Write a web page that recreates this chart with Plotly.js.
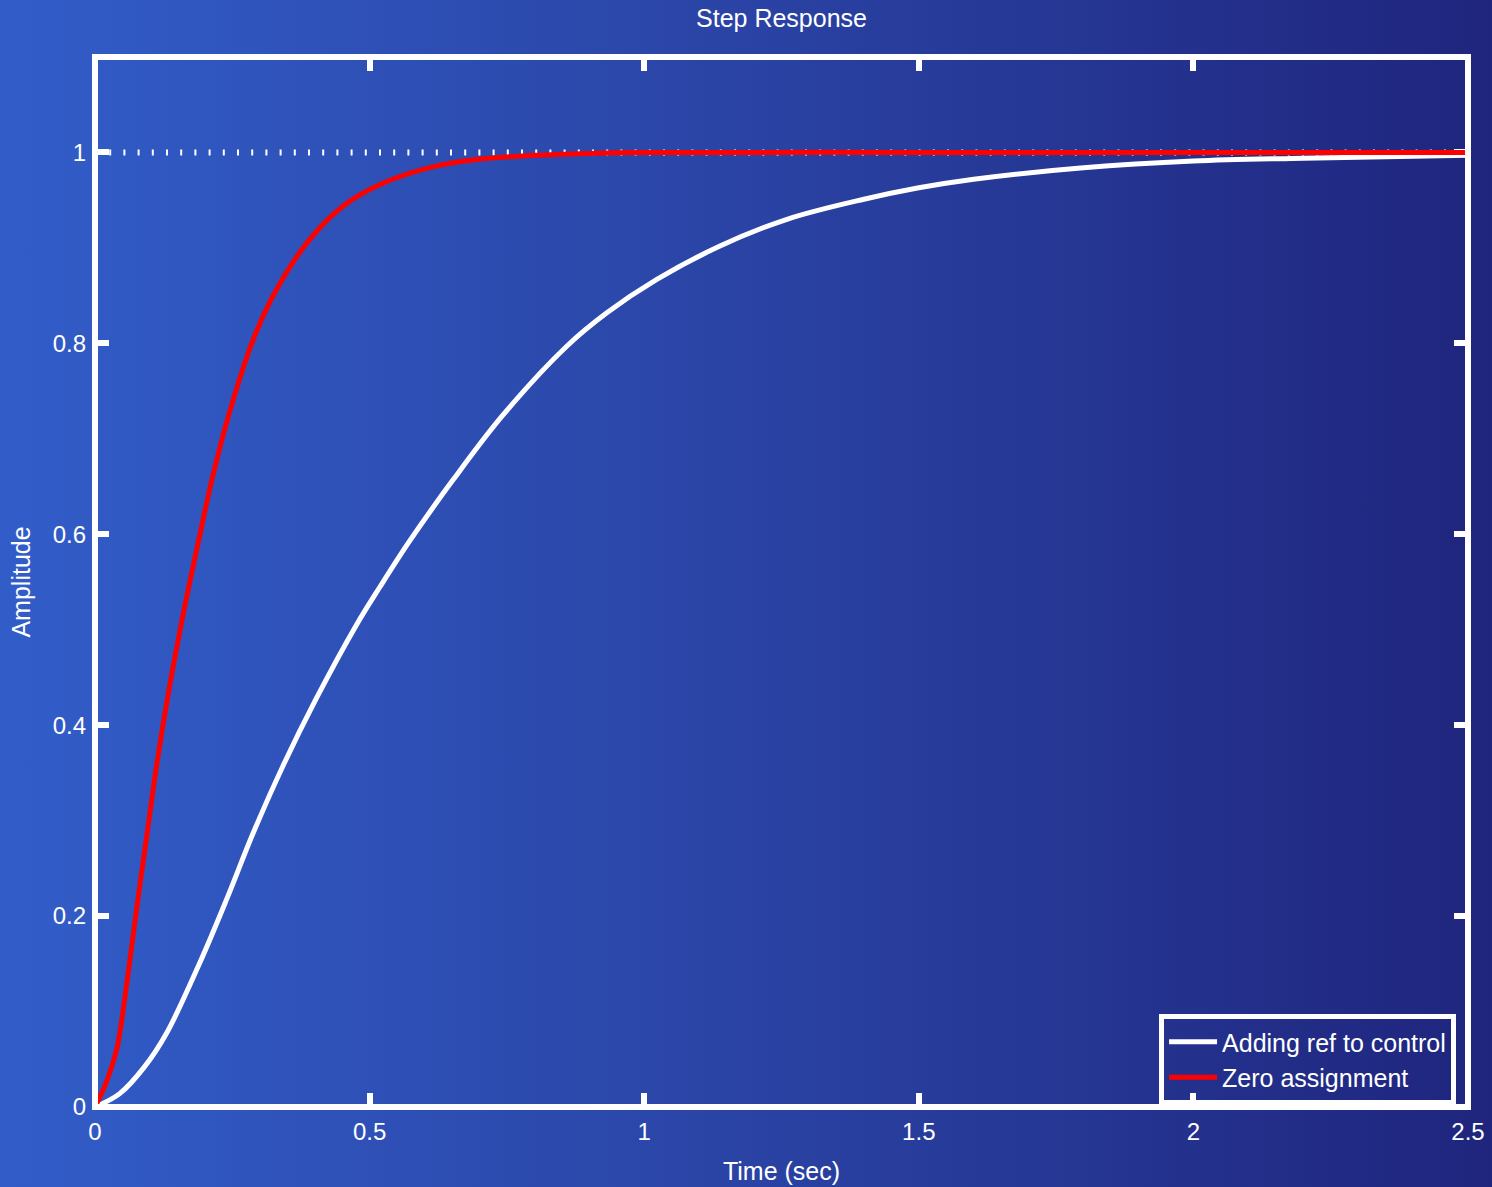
<!DOCTYPE html>
<html>
<head>
<meta charset="utf-8">
<script src="https://cdn.plot.ly/plotly-3.0.1.min.js"></script>
<style>
  html, body { margin: 0; padding: 0; }
  #chart {
    width: 1492px; height: 1187px;
    background: linear-gradient(to right, rgb(50,93,201) 0%, rgb(43,70,168) 45%, rgb(31,37,125) 100%);
  }
</style>
</head>
<body>
<div id="chart"></div>
<script>
// Series: "Adding ref to control" (white)
const timeAddingRef = [0, 0.045, 0.09, 0.13, 0.19, 0.24, 0.288, 0.342, 0.403, 0.476, 0.519, 0.573, 0.652, 0.743, 0.859, 0.932, 1.023, 1.138, 1.26, 1.4, 1.5, 1.6, 1.8, 2.0, 2.2, 2.5];
const ampAddingRef  = [0, 0.014, 0.042, 0.077, 0.150, 0.218, 0.287, 0.357, 0.428, 0.505, 0.545, 0.593, 0.657, 0.725, 0.797, 0.832, 0.867, 0.902, 0.930, 0.951, 0.963, 0.972, 0.984, 0.991, 0.994, 0.997];

// Series: "Zero assignment" (red)
const timeZeroAssign = [0, 0.02, 0.039, 0.045, 0.062, 0.078, 0.095, 0.112, 0.131, 0.155, 0.17, 0.19, 0.214, 0.245, 0.288, 0.33, 0.391, 0.452, 0.525, 0.622, 0.7, 0.8, 0.9, 1.0, 1.5, 2.0, 2.5];
const ampZeroAssign  = [0, 0.025, 0.059, 0.077, 0.147, 0.217, 0.287, 0.357, 0.425, 0.500, 0.543, 0.597, 0.660, 0.728, 0.804, 0.856, 0.909, 0.944, 0.968, 0.986, 0.993, 0.997, 0.999, 1.0, 1.0, 1.0, 1.0];

// Steady-state reference line
const steadyTime = [0, 2.5];
const steadyAmp  = [1, 1];

// Axis ticks
const xTicks = [0, 0.5, 1, 1.5, 2, 2.5];
const xTickLabels = ['0', '0.5', '1', '1.5', '2', '2.5'];
const yTicks = [0, 0.2, 0.4, 0.6, 0.8, 1];
const yTickLabels = ['0', '0.2', '0.4', '0.6', '0.8', '1'];

const seriesNames = ['Adding ref to control', 'Zero assignment'];

const FONT = '"Liberation Sans", Arial, Helvetica, sans-serif';

const traces = [
  {
    x: steadyTime, y: steadyAmp, type: 'scatter', mode: 'lines',
    line: { color: 'white', width: 6, dash: '2px,12.2px' },
    showlegend: false, hoverinfo: 'skip'
  },
  {
    x: timeAddingRef, y: ampAddingRef, type: 'scatter', mode: 'lines',
    name: seriesNames[0],
    line: { color: 'white', width: 5, shape: 'spline', smoothing: 1 }
  },
  {
    x: timeZeroAssign, y: ampZeroAssign, type: 'scatter', mode: 'lines',
    name: seriesNames[1],
    line: { color: 'rgb(255,0,0)', width: 5, shape: 'spline', smoothing: 1 }
  }
];

const layout = {
  width: 1492, height: 1187,
  paper_bgcolor: 'rgba(0,0,0,0)',
  plot_bgcolor: 'rgba(0,0,0,0)',
  margin: { l: 95, r: 24, t: 57, b: 80 },
  font: { family: FONT, color: 'white', size: 24 },
  title: {
    text: 'Step Response',
    font: { family: FONT, size: 25, color: 'white' },
    x: 0.5, xref: 'paper', y: 0.985, yref: 'container', yanchor: 'middle'
  },
  xaxis: {
    range: [0, 2.5], tickvals: xTicks, ticktext: xTickLabels,
    ticks: 'inside', ticklen: 14, tickwidth: 6, tickcolor: 'white', mirror: 'ticks',
    showgrid: false, zeroline: false, showline: false, layer: 'below traces',
    ticklabelstandoff: 8,
    tickfont: { family: FONT, size: 24, color: 'white' },
    title: { text: 'Time (sec)', font: { family: FONT, size: 25, color: 'white' }, standoff: 18 }
  },
  yaxis: {
    range: [0, 1.1], tickvals: yTicks, ticktext: yTickLabels,
    ticks: 'inside', ticklen: 14, tickwidth: 6, tickcolor: 'white', mirror: 'ticks',
    showgrid: false, zeroline: false, showline: false, layer: 'below traces',
    ticklabelstandoff: 8,
    tickfont: { family: FONT, size: 24, color: 'white' },
    title: { text: 'Amplitude', font: { family: FONT, size: 25, color: 'white' }, standoff: 14 }
  },
  shapes: [{
    type: 'rect', xref: 'paper', yref: 'paper', x0: 0, x1: 1, y0: 0, y1: 1,
    line: { color: 'white', width: 6 }, layer: 'above'
  }],
  legend: {
    x: 0.9913, xanchor: 'right', y: 0.0452, yanchor: 'middle',
    bgcolor: 'rgba(0,0,0,0)', bordercolor: 'white', borderwidth: 5,
    itemwidth: 48,
    font: { family: FONT, size: 25, color: 'white' }
  },
  showlegend: true
};

Plotly.newPlot('chart', traces, layout, { displayModeBar: false, staticPlot: true });
</script>
</body>
</html>
